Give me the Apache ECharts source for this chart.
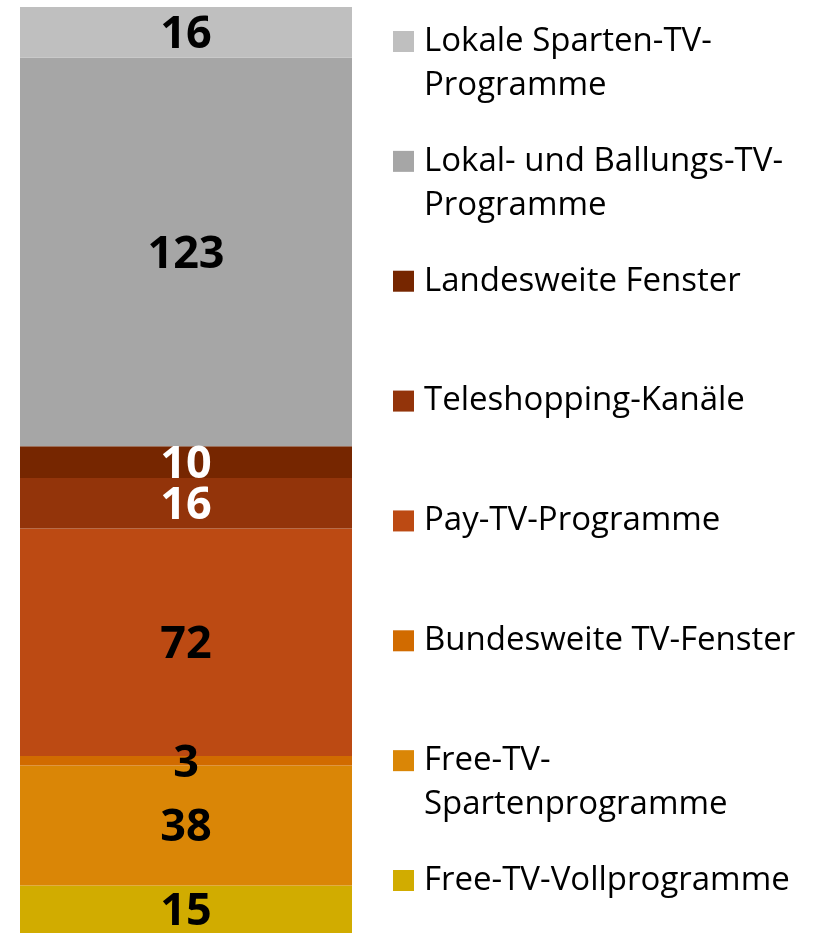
<!DOCTYPE html>
<html style="height: 100%">
<head>
<meta charset="UTF-8">
<title>TV-Programme</title>
<script src="https://cdn.jsdelivr.net/npm/echarts@6/dist/echarts.min.js"></script>
</head>
<body style="height: 100%; margin: 0; background: #fff">
<div id="container" style="width: 815px; height: 933px"></div>
<script type="text/javascript">
// bottom to top
var names = ['Free-TV-Vollprogramme', 'Free-TV-Spartenprogramme', 'Bundesweite TV-Fenster',
  'Pay-TV-Programme', 'Teleshopping-Kanäle', 'Landesweite Fenster',
  'Lokal- und Ballungs-TV-Programme', 'Lokale Sparten-TV-Programme'];
var values = [15, 38, 3, 72, 16, 10, 123, 16];
var colors = ['#d1ac00', '#da8606', '#d16b00', '#bc4a13', '#93340a', '#762600', '#a6a6a6', '#bfbfbf'];
var labelColors = ['#000', '#000', '#000', '#000', '#fff', '#fff', '#000', '#000'];
// legend text as printed (line breaks)
var legendLabels = {
  'Lokale Sparten-TV-Programme': ['Lokale Sparten-TV-', 'Programme'],
  'Lokal- und Ballungs-TV-Programme': ['Lokal- und Ballungs-TV-', 'Programme'],
  'Free-TV-Spartenprogramme': ['Free-TV-', 'Spartenprogramme']
};

var total = 0;
for (var i = 0; i < values.length; i++) total += values[i];

var FONT = '"Open Sans", "Noto Sans", sans-serif';
var LINE = 44;

var dom = document.getElementById('container');
var myChart = echarts.init(dom, null, {renderer: 'canvas'});

var series = [];
for (var i = 0; i < names.length; i++) {
  series.push({
    name: names[i],
    type: 'bar',
    stack: 'all',
    barWidth: '100%',
    data: [values[i]],
    itemStyle: {color: colors[i], borderWidth: 0},
    label: {
      show: true,
      position: 'inside',
      offset: [0, 3],
      color: labelColors[i],
      fontFamily: FONT,
      fontWeight: 'bold',
      fontSize: 45,
      textBorderWidth: 0
    }
  });
}

var legends = [];
for (var k = 0; k < names.length; k++) {
  var n = names[names.length - 1 - k];
  var twoLine = !!legendLabels[n];
  var center = 41.5 + 119.86 * k;
  legends.push({
    left: 393,
    top: twoLine ? center - LINE * 1.5 : center - LINE / 2,
    orient: 'vertical',
    padding: 0,
    itemWidth: 21,
    itemHeight: 21,
    itemGap: 0,
    icon: 'rect',
    selectedMode: false,
    data: [n],
    // blank first line keeps the icon level with the first text line
    formatter: function (name) {
      return legendLabels[name] ? '\n' + legendLabels[name].join('\n') : name;
    },
    textStyle: {
      color: '#000',
      fontFamily: FONT,
      fontSize: 33,
      lineHeight: LINE,
      padding: [0, 0, 0, 5]
    }
  });
}

var option = {
  animation: false,
  backgroundColor: '#fff',
  grid: {left: 20, right: 463, top: 7, bottom: 0},
  xAxis: {type: 'category', data: [''], show: false},
  yAxis: {type: 'value', min: 0, max: total, show: false},
  legend: legends,
  series: series
};
myChart.setOption(option);
</script>
</body>
</html>
